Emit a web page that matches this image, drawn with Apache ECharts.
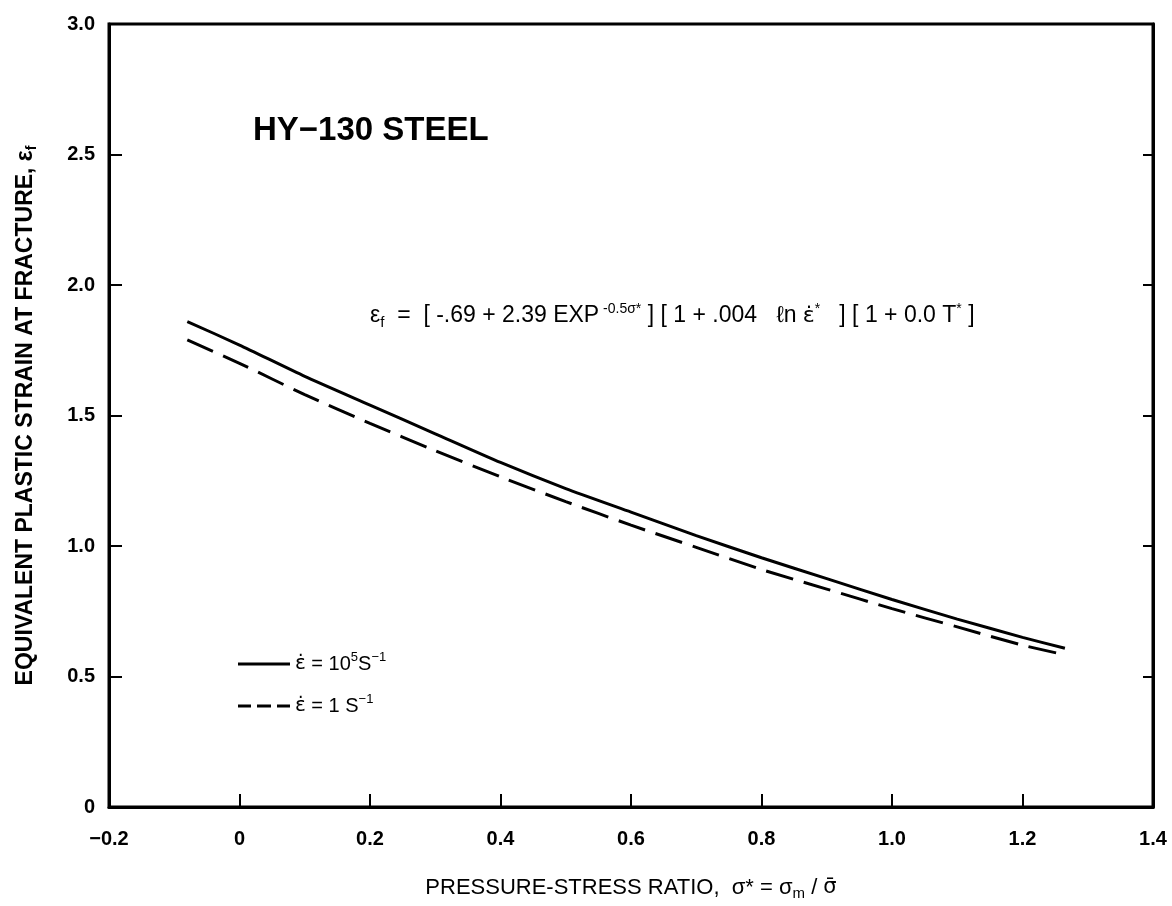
<!DOCTYPE html>
<html>
<head>
<meta charset="utf-8">
<script src="https://cdn.jsdelivr.net/npm/echarts@6/dist/echarts.min.js"></script>
<style>
  html, body { margin: 0; padding: 0; background: #fff; }
  #chart { width: 1172px; height: 906px; }
</style>
</head>
<body>
<div id="chart"></div>
<script>
// pressure-stress ratio values
const sigmaStar = [-0.08, 0, 0.1, 0.2, 0.3, 0.4, 0.5, 0.6, 0.7, 0.8, 0.9, 1.0, 1.1, 1.2, 1.265];
// strain rate 10^5 s^-1 (solid)
const strainHighRate = [1.86, 1.77, 1.65, 1.54, 1.43, 1.32, 1.22, 1.13, 1.04, 0.955, 0.875, 0.795, 0.72, 0.65, 0.608];
// strain rate 1 s^-1 (dashed)
const strainLowRate = [1.79, 1.70, 1.58, 1.47, 1.365, 1.265, 1.17, 1.08, 0.995, 0.91, 0.835, 0.76, 0.69, 0.62, 0.583];

const seriesNames = ['high', 'low'];

const FONT = 'Liberation Sans, Arial, sans-serif';
const MARKFONT = 'DejaVu Sans, sans-serif';

function pairs(xs, ys) {
    return xs.map((x, i) => [x, ys[i]]);
}

const chart = echarts.init(document.getElementById('chart'));

const option = {
    backgroundColor: '#fff',
    animation: false,
    textStyle: { fontFamily: FONT, color: '#000' },
    grid: {
        left: 109, right: 19, top: 24, bottom: 99,
        show: true, borderColor: '#000', borderWidth: 3
    },
    legend: {
        orient: 'vertical',
        left: 238,
        top: 651,
        padding: 0,
        itemWidth: 52,
        itemHeight: 3,
        itemGap: 19,
        data: [
            { name: seriesNames[0], icon: 'path://M0,0 H52 V3 H0 Z' },
            { name: seriesNames[1], icon: 'path://M0,0 H13 V3 H0 Z M19,0 H33 V3 H19 Z M39,0 H52 V3 H39 Z' }
        ],
        formatter: function (name) {
            if (name === 'high') return '{e|ε̇}{t| = 10}{sup|5}{t|S}{sup|−1}';
            return '{e|ε̇}{t| = 1 S}{sup|−1}';
        },
        textStyle: {
            fontFamily: FONT, color: '#000', fontSize: 20,
            rich: {
                e: { fontSize: 20, fontFamily: MARKFONT, color: '#000', verticalAlign: 'middle', lineHeight: 26 },
                t: { fontSize: 20, fontFamily: FONT, color: '#000', verticalAlign: 'middle', lineHeight: 26 },
                sup: { fontSize: 13, fontFamily: FONT, color: '#000', verticalAlign: 'top', lineHeight: 14 }
            }
        }
    },
    xAxis: [{
        type: 'value',
        min: -0.2, max: 1.4, interval: 0.2,
        axisLine: { show: true, onZero: false, lineStyle: { color: '#000', width: 3 } },
        axisTick: { show: true, inside: true, length: 13, lineStyle: { color: '#000', width: 2 } },
        splitLine: { show: false },
        axisLabel: {
            margin: 22, fontSize: 20, fontWeight: 'bold', color: '#000', fontFamily: FONT,
            formatter: v => (Math.abs(v) < 1e-9 ? '0' : (v < 0 ? '−' + Math.abs(v).toFixed(1) : v.toFixed(1)))
        },
        name: '{t|PRESSURE-STRESS RATIO,  σ* = σ}{sub|m}{t| / }{e|σ̄}',
        nameLocation: 'middle',
        nameGap: 68,
        nameTextStyle: {
            rich: {
                t: { fontSize: 22, fontFamily: FONT, color: '#000', verticalAlign: 'middle', lineHeight: 26 },
                e: { fontSize: 21, fontFamily: MARKFONT, color: '#000', verticalAlign: 'middle', lineHeight: 26 },
                sub: { fontSize: 15, fontFamily: FONT, color: '#000', verticalAlign: 'bottom', lineHeight: 14 }
            }
        }
    }],
    yAxis: [{
        type: 'value',
        min: 0, max: 3, interval: 0.5,
        axisLine: { show: true, onZero: false, lineStyle: { color: '#000', width: 3 } },
        axisTick: { show: true, inside: true, length: 13, lineStyle: { color: '#000', width: 2 } },
        splitLine: { show: false },
        axisLabel: {
            margin: 14, fontSize: 20, fontWeight: 'bold', color: '#000', fontFamily: FONT,
            formatter: v => (Math.abs(v) < 1e-9 ? '0' : v.toFixed(1))
        },
        name: '{t|EQUIVALENT PLASTIC STRAIN AT FRACTURE, ε}{sub|f}',
        nameLocation: 'middle',
        nameGap: 70,
        nameRotate: 90,
        nameTextStyle: {
            rich: {
                t: { fontSize: 23, fontWeight: 'bold', fontFamily: FONT, color: '#000', verticalAlign: 'middle', lineHeight: 26 },
                sub: { fontSize: 14, fontWeight: 'bold', fontFamily: FONT, color: '#000', verticalAlign: 'bottom', lineHeight: 12 }
            }
        }
    }, {
        type: 'value',
        position: 'right',
        min: 0, max: 3, interval: 0.5,
        axisLine: { show: true, onZero: false, lineStyle: { color: '#000', width: 3 } },
        axisTick: { show: true, inside: true, length: 10, lineStyle: { color: '#000', width: 2 } },
        axisLabel: { show: false },
        splitLine: { show: false }
    }],
    graphic: [
        {
            type: 'text',
            left: 253, top: 114,
            style: { text: 'HY−130 STEEL', font: 'bold 33px ' + FONT, fill: '#000' }
        },
        {
            type: 'text',
            left: 370, top: 302,
            style: {
                text: '{t|ε}{sub|f}{t|  =  [ -.69 + 2.39 EXP}{sup| -0.5σ*}{t| ] [ 1 + .004   ℓn }{e|ε̇}{sup|*}{t|   ] [ 1 + 0.0 T}{sup|*}{t| ]}',
                fill: '#000',
                rich: {
                    t: { fontSize: 23, fontFamily: FONT, fill: '#000', verticalAlign: 'middle', lineHeight: 28 },
                    e: { fontSize: 22, fontFamily: MARKFONT, fill: '#000', verticalAlign: 'middle', lineHeight: 28 },
                    sup: { fontSize: 14, fontFamily: FONT, fill: '#000', verticalAlign: 'top', lineHeight: 14 },
                    sub: { fontSize: 15, fontFamily: FONT, fill: '#000', verticalAlign: 'bottom', lineHeight: 12 }
                }
            }
        }
    ],
    series: [
        {
            name: seriesNames[0],
            type: 'line',
            symbol: 'none',
            smooth: 0.2,
            data: pairs(sigmaStar, strainHighRate),
            lineStyle: { color: '#000', width: 3 },
            itemStyle: { color: '#000' }
        },
        {
            name: seriesNames[1],
            type: 'line',
            symbol: 'none',
            smooth: 0.2,
            data: pairs(sigmaStar, strainLowRate),
            lineStyle: { color: '#000', width: 3, type: [28, 11] },
            itemStyle: { color: '#000' }
        }
    ]
};

chart.setOption(option);
</script>
</body>
</html>
